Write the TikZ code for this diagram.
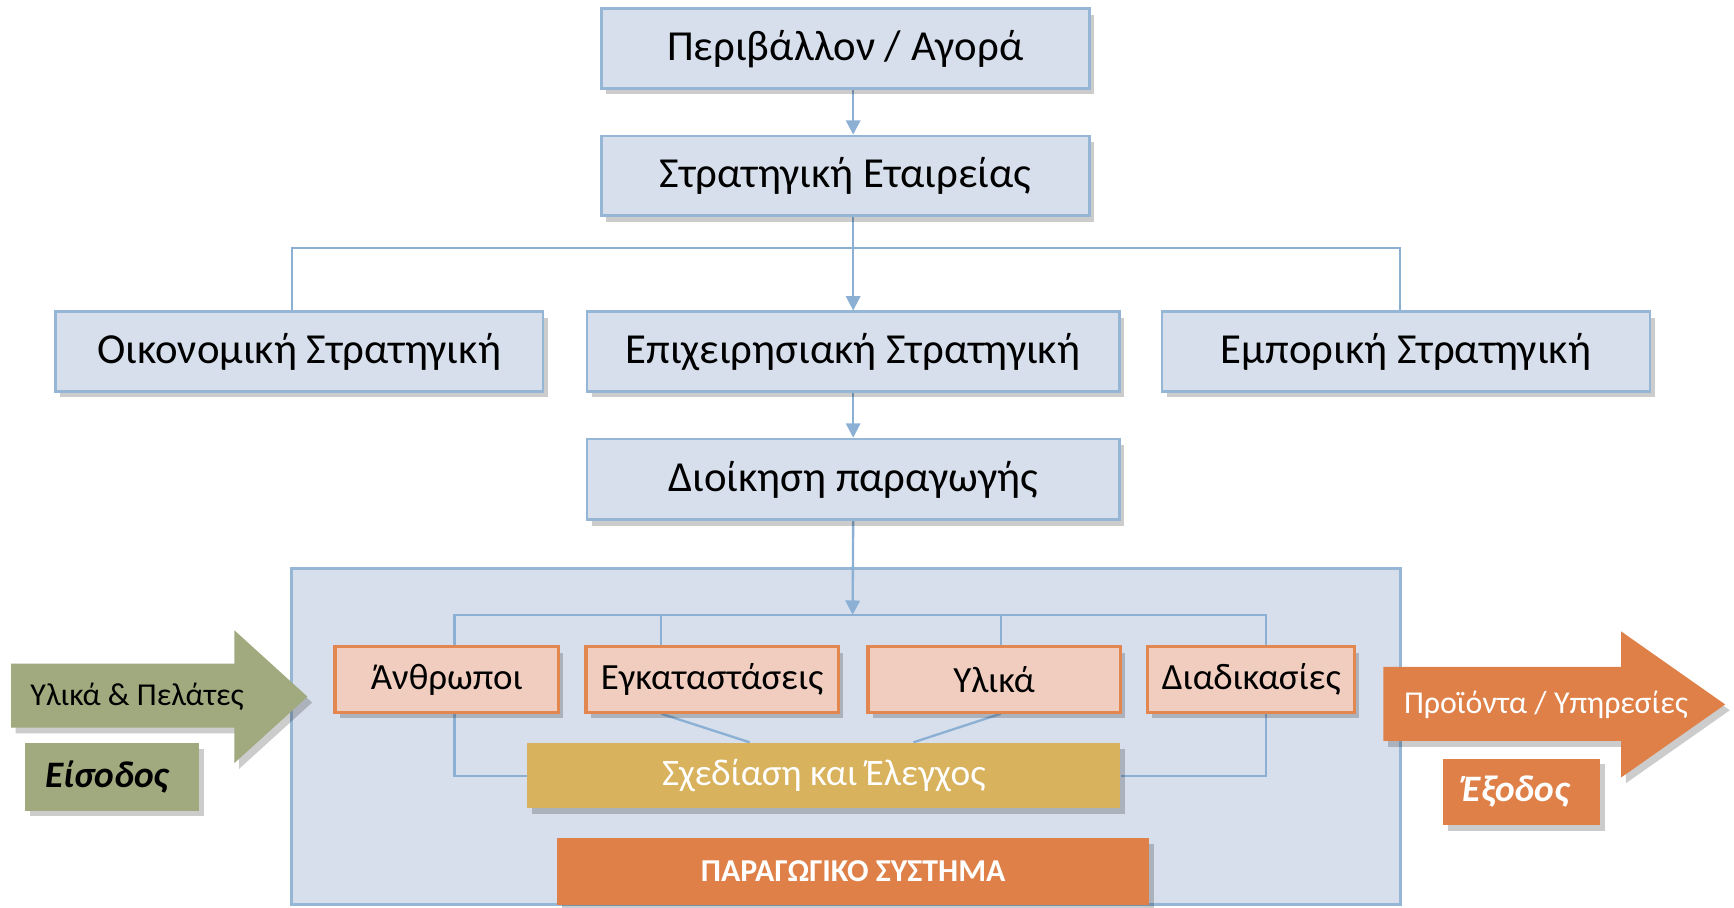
\documentclass[tikz,border=0pt]{standalone}
\usepackage{fontspec}
\setmainfont{Carlito}
\usetikzlibrary{arrows.meta,shadows,calc}
\definecolor{boxfill}{RGB}{214,223,235}
\definecolor{boxline}{RGB}{150,182,214}
\definecolor{connline}{RGB}{140,176,212}
\definecolor{pinkfill}{RGB}{241,205,191}
\definecolor{pinkline}{RGB}{226,135,80}
\definecolor{goldfill}{RGB}{216,178,92}
\definecolor{orangefill}{RGB}{222,128,72}
\definecolor{greenfill}{RGB}{161,169,126}
\pgfdeclarelayer{back}
\pgfdeclarelayer{mid}
\pgfsetlayers{back,mid,main}
\tikzset{
  shad/.style={drop shadow={shadow xshift=1.2pt,shadow yshift=-1.5pt,opacity=0.2,fill=black}},
  bluebox/.style={draw=boxline,line width=0.7pt,fill=boxfill,inner sep=0pt,shad,font=\fontsize{11}{13}\selectfont},
  pinkbox/.style={draw=pinkline,line width=0.8pt,fill=pinkfill,inner sep=0pt,shad,font=\fontsize{9.5}{11}\selectfont},
  solidbox/.style={inner sep=0pt,shad},
  conn/.style={draw=connline,line width=0.6pt},
  tip/.style={-{Triangle[length=0.13cm,width=0.13cm]}},
}
\begin{document}
\begin{tikzpicture}[x=0.01cm,y=-0.01cm]
\useasboundingbox (0,0) rectangle (1568,821);
% container
\begin{pgfonlayer}{back}
\node[draw=boxline,line width=0.8pt,fill=boxfill,minimum width=10.02cm,minimum height=3.04cm,inner sep=0pt] (sys) at (765,666) {};
\end{pgfonlayer}
% top boxes
\node[bluebox,minimum width=4.41cm,minimum height=0.72cm] (env) at (764.5,44) {Περιβάλλον / Αγορά};
\node[bluebox,minimum width=4.41cm,minimum height=0.72cm] (strat) at (764.5,159) {Στρατηγική Εταιρείας};
\node[bluebox,minimum width=4.41cm,minimum height=0.72cm] (oik) at (270.5,318) {Οικονομική Στρατηγική};
\node[bluebox,minimum width=4.81cm,minimum height=0.72cm] (epix) at (771.5,318) {Επιχειρησιακή Στρατηγική};
\node[bluebox,minimum width=4.41cm,minimum height=0.72cm] (emp) at (1271.5,318) {Εμπορική Στρατηγική};
\node[bluebox,minimum width=4.81cm,minimum height=0.73cm] (dioik) at (771.5,433.5) {Διοίκηση παραγωγής};
% inner boxes
\node[pinkbox,minimum width=2.02cm,minimum height=0.59cm] (anth) at (404,614.5) {Άνθρωποι};
\node[pinkbox,minimum width=2.28cm,minimum height=0.59cm] (egk) at (644,614.5) {Εγκαταστάσεις};
\node[pinkbox,minimum width=2.28cm,minimum height=0.59cm] (ylika) at (899,614.5) {Υλικά};
\node[pinkbox,minimum width=1.87cm,minimum height=0.59cm] (diad) at (1131.5,614.5) {Διαδικασίες};
\node[solidbox,fill=goldfill,minimum width=5.36cm,minimum height=0.59cm,text=white,font=\fontsize{9.6}{11}\selectfont] (sxed) at (745,701.5) {Σχεδίαση και Έλεγχος};
\node[solidbox,fill=orangefill,minimum width=5.35cm,minimum height=0.60cm,text=white,font=\fontsize{8.2}{10}\selectfont\bfseries] (parag) at (771.5,788) {ΠΑΡΑΓΩΓΙΚΟ ΣΥΣΤΗΜΑ};
% connectors
\coordinate (br) at (771,224);
\coordinate (hub) at (771,556);
\coordinate (hl) at (411,556);
\coordinate (hr) at (1145,556);
\begin{pgfonlayer}{mid}
\draw[conn,tip] (env.south -| epix.north) -- (strat.north -| epix.north);
\draw[conn,tip] (strat.south -| epix.north) -- (epix.north);
\draw[conn] (oik.north -| 264,0) |- (br) -| (emp.north -| 1266,0);
\draw[conn,tip] (epix.south) -- (dioik.north);
\draw[conn,tip] (dioik.south) -- (hub);
\draw[conn] (sxed.west) -| (hl) -- (hr) |- (sxed.east);
\draw[conn] (egk.north -| 598,0) -- (598,556);
\draw[conn] (ylika.north -| 905,0) -- (905,556);
\draw[conn] (egk.south -| 598,0) -- (sxed.north -| 678,0);
\draw[conn] (ylika.south -| 905,0) -- (sxed.north -| 826,0);
\end{pgfonlayer}
% input arrow
\path[fill=greenfill,shad] (10,600) -- (212,600) -- (212,570) -- (278,630) -- (212,690) -- (212,658) -- (10,658) -- cycle;
\node[font=\fontsize{8.2}{10}\selectfont] (inlab) at (124,630) {Υλικά \& Πελάτες};
\node[solidbox,fill=greenfill,minimum width=1.57cm,minimum height=0.61cm] (eis) at (101.5,702.5) {};
\node[font=\fontsize{9.6}{11}\selectfont\bfseries\itshape] (eistxt) at (97,702.5) {Είσοδος};
% output arrow
\path[fill=orangefill,shad] (1251,603) -- (1466,603) -- (1466,571) -- (1560,637) -- (1466,703) -- (1466,670) -- (1251,670) -- cycle;
\node[text=white,font=\fontsize{8.2}{10}\selectfont] (outlab) at (1398,637) {Προϊόντα / Υπηρεσίες};
\node[solidbox,fill=orangefill,minimum width=1.42cm,minimum height=0.60cm] (exo) at (1376,716) {};
\node[text=white,font=\fontsize{9.6}{11}\selectfont\bfseries\itshape] (exotxt) at (1371,716) {Έξοδος};
\end{tikzpicture}
\end{document}
